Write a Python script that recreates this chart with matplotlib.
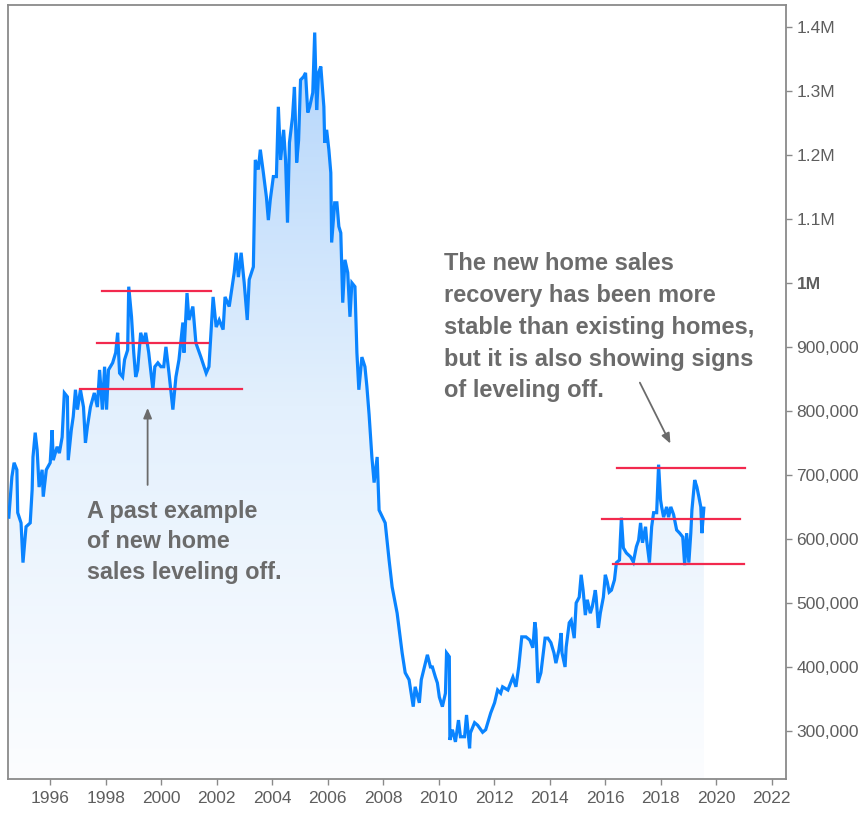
import numpy as np
import matplotlib
matplotlib.use("Agg")
import matplotlib.pyplot as plt
from matplotlib.colors import LinearSegmentedColormap

# ---- data (decimal year, value in thousands) ----
years = [
    1994.51, 1994.62, 1994.70, 1994.80, 1994.83, 1994.95, 1995.02, 1995.13, 1995.28, 1995.35,
    1995.38, 1995.46, 1995.53, 1995.60, 1995.71, 1995.75, 1995.86, 1996.00, 1996.07, 1996.11,
    1996.25, 1996.33, 1996.43, 1996.51, 1996.62, 1996.65, 1996.76, 1996.83, 1996.91, 1996.98,
    1997.09, 1997.20, 1997.27, 1997.34, 1997.45, 1997.59, 1997.70, 1997.78, 1997.88, 1997.96,
    1998.03, 1998.10, 1998.25, 1998.36, 1998.43, 1998.50, 1998.61, 1998.68, 1998.79, 1998.83,
    1998.93, 1999.01, 1999.08, 1999.15, 1999.26, 1999.37, 1999.44, 1999.55, 1999.70, 1999.77,
    1999.88, 1999.99, 2000.09, 2000.17, 2000.28, 2000.42, 2000.53, 2000.64, 2000.78, 2000.82,
    2000.93, 2001.00, 2001.14, 2001.25, 2001.43, 2001.62, 2001.72, 2001.87, 2001.98, 2002.09,
    2002.23, 2002.30, 2002.45, 2002.63, 2002.70, 2002.78, 2002.88, 2002.99, 2003.10, 2003.17,
    2003.32, 2003.39, 2003.50, 2003.57, 2003.68, 2003.79, 2003.86, 2003.93, 2004.04, 2004.15,
    2004.22, 2004.30, 2004.41, 2004.48, 2004.55, 2004.62, 2004.73, 2004.80, 2004.88, 2004.95,
    2005.02, 2005.13, 2005.20, 2005.28, 2005.35, 2005.46, 2005.53, 2005.60, 2005.67, 2005.75,
    2005.86, 2005.89, 2005.96, 2006.04, 2006.11, 2006.14, 2006.25, 2006.33, 2006.40, 2006.47,
    2006.54, 2006.62, 2006.72, 2006.80, 2006.87, 2006.98, 2007.05, 2007.12, 2007.23, 2007.34,
    2007.41, 2007.49, 2007.59, 2007.67, 2007.78, 2007.85, 2008.07, 2008.21, 2008.32, 2008.50,
    2008.68, 2008.79, 2008.93, 2009.08, 2009.15, 2009.30, 2009.37, 2009.59, 2009.70, 2009.77,
    2009.88, 2009.95, 2010.02, 2010.13, 2010.24, 2010.28, 2010.38, 2010.40, 2010.49, 2010.60,
    2010.71, 2010.78, 2010.93, 2011.00, 2011.11, 2011.14, 2011.29, 2011.40, 2011.58, 2011.69,
    2011.87, 2012.01, 2012.12, 2012.23, 2012.30, 2012.49, 2012.67, 2012.78, 2012.88, 2012.99,
    2013.14, 2013.28, 2013.39, 2013.46, 2013.50, 2013.57, 2013.68, 2013.83, 2013.93, 2014.04,
    2014.15, 2014.22, 2014.33, 2014.41, 2014.44, 2014.55, 2014.59, 2014.70, 2014.77, 2014.88,
    2014.95, 2015.06, 2015.13, 2015.20, 2015.28, 2015.35, 2015.46, 2015.53, 2015.64, 2015.67,
    2015.75, 2015.82, 2015.93, 2016.00, 2016.07, 2016.14, 2016.22, 2016.33, 2016.40, 2016.51,
    2016.54, 2016.58, 2016.65, 2016.76, 2016.91, 2017.01, 2017.12, 2017.20, 2017.27, 2017.34,
    2017.45, 2017.49, 2017.59, 2017.67, 2017.74, 2017.85, 2017.92, 2017.99, 2018.03, 2018.10,
    2018.21, 2018.28, 2018.36, 2018.46, 2018.57, 2018.68, 2018.79, 2018.86, 2018.93, 2019.01,
    2019.08, 2019.12, 2019.22, 2019.30, 2019.37, 2019.44, 2019.48, 2019.55,
]
values_k = [
    634, 697, 719, 708, 641, 625, 563, 619, 625, 677,
    728, 766, 739, 681, 708, 666, 708, 719, 770, 723,
    744, 734, 759, 828, 822, 723, 770, 791, 833, 802,
    833, 806, 750, 775, 806, 828, 806, 864, 802, 869,
    802, 864, 875, 891, 922, 859, 853, 880, 895, 994,
    947, 891, 853, 864, 922, 906, 922, 891, 833, 869,
    875, 869, 869, 900, 859, 802, 853, 880, 938, 891,
    984, 942, 963, 906, 884, 859, 869, 978, 931, 942,
    927, 978, 963, 1016, 1047, 1009, 1047, 1000, 942, 1005,
    1025, 1192, 1177, 1208, 1172, 1134, 1098, 1130, 1166, 1166,
    1275, 1192, 1239, 1192, 1094, 1219, 1259, 1306, 1188, 1223,
    1317, 1322, 1328, 1266, 1275, 1297, 1391, 1270, 1328, 1338,
    1275, 1219, 1239, 1208, 1172, 1063, 1125, 1125, 1088, 1078,
    969, 1036, 1016, 947, 1000, 994, 891, 833, 884, 869,
    838, 794, 728, 688, 728, 645, 625, 567, 525, 484,
    422, 391, 380, 338, 369, 344, 380, 419, 400, 400,
    384, 375, 353, 338, 359, 422, 416, 286, 302, 283,
    317, 291, 291, 325, 273, 297, 313, 309, 298, 302,
    328, 344, 364, 359, 369, 364, 384, 369, 400, 447,
    447, 442, 430, 470, 458, 375, 391, 445, 445, 438,
    422, 406, 427, 453, 422, 400, 431, 469, 473, 445,
    500, 509, 544, 520, 481, 505, 484, 494, 520, 509,
    461, 484, 509, 544, 533, 517, 520, 536, 563, 567,
    598, 633, 586, 578, 572, 564, 588, 598, 625, 594,
    619, 598, 563, 619, 641, 641, 716, 661, 650, 634,
    650, 634, 650, 638, 614, 609, 603, 559, 609, 563,
    609, 645, 692, 681, 666, 650, 609, 648,
]

# horizontal reference levels (value in thousands, start year, end year)
level_values_k = [988, 906, 834, 711, 631, 561]
level_starts = [1997.85, 1997.67, 1997.09, 2016.43, 2015.89, 2016.29]
level_ends = [2001.80, 2001.69, 2002.92, 2021.04, 2020.86, 2021.00]

xtick_years = [1996, 1998, 2000, 2002, 2004, 2006, 2008, 2010, 2012, 2014, 2016, 2018, 2020, 2022]
ytick_values = [300000, 400000, 500000, 600000, 700000, 800000, 900000, 1000000, 1100000, 1200000, 1300000, 1400000]
ytick_labels = ["300,000", "400,000", "500,000", "600,000", "700,000", "800,000", "900,000",
                "1M", "1.1M", "1.2M", "1.3M", "1.4M"]

left_note = "A past example\nof new home\nsales leveling off."
right_note = ("The new home sales\nrecovery has been more\nstable than existing homes,\n"
              "but it is also showing signs\nof leveling off.")

# ---- plot ----
plt.rcParams['font.family'] = ['Liberation Sans', 'DejaVu Sans']

x = np.array(years)
y = np.array(values_k) * 1000.0

fig = plt.figure(figsize=(8.66, 8.14), dpi=100)
ax = fig.add_axes([8 / 866, 1 - 779 / 814, (786 - 8) / 866, (779 - 5) / 814])

xmin, xmax = 1994.48, 2022.51
ymin, ymax = 225000, 1434000
ax.set_xlim(xmin, xmax)
ax.set_ylim(ymin, ymax)

# gradient area fill
poly = ax.fill_between(x, y, ymin, color='none', linewidth=0)
cmap = LinearSegmentedColormap.from_list('g', ['#fcfdff', '#e3f0fd', '#b3d5fb'])
grad = np.linspace(0, 1, 256).reshape(-1, 1)
im = ax.imshow(grad, extent=[x.min(), x.max(), ymin, y.max()], origin='lower',
               aspect='auto', cmap=cmap, zorder=1, interpolation='bilinear')
path = poly.get_paths()[0]
im.set_clip_path(path, transform=ax.transData)

ax.plot(x, y, color='#0a84ff', linewidth=2.3, zorder=3, solid_joinstyle='miter')

for v, s, e in zip(level_values_k, level_starts, level_ends):
    ax.plot([s, e], [v * 1000, v * 1000], color='#f2294e', linewidth=1.6, zorder=4)

# annotations
note_color = '#6b6b6b'
ax.text(1997.34, 661000, left_note, fontsize=16.8, fontweight='bold', color=note_color,
        va='top', ha='left', linespacing=1.42, zorder=5)
ax.text(2010.2, 1048000, right_note, fontsize=17.0, fontweight='bold', color=note_color,
        va='top', ha='left', linespacing=1.49, zorder=5)

ax.annotate('', xy=(1999.51, 809000), xytext=(1999.51, 680000),
            arrowprops=dict(arrowstyle='-|>,head_length=0.6,head_width=0.25',
                            color='#6b6b6b', lw=1.3), zorder=5)
ax.annotate('', xy=(2018.39, 745000), xytext=(2017.20, 848000),
            arrowprops=dict(arrowstyle='-|>,head_length=0.6,head_width=0.25',
                            color='#6b6b6b', lw=1.3), zorder=5)

# axes styling
for sp in ax.spines.values():
    sp.set_color('#8a8a8a')
    sp.set_linewidth(1.3)

ax.yaxis.tick_right()
ax.set_yticks(ytick_values)
ax.set_yticklabels(ytick_labels)
ax.set_xticks(xtick_years)
ax.set_xticklabels([str(v) for v in xtick_years])
ax.tick_params(axis='both', colors='#8a8a8a', length=4.5, width=1.0, labelsize=12.5,
               labelcolor='#5e5e5e')
ax.tick_params(axis='y', pad=3)
ax.tick_params(axis='x', pad=4)
for lab in ax.get_yticklabels():
    if lab.get_text() == '1M':
        lab.set_fontweight('bold')

fig.savefig('out.png', dpi=100)
